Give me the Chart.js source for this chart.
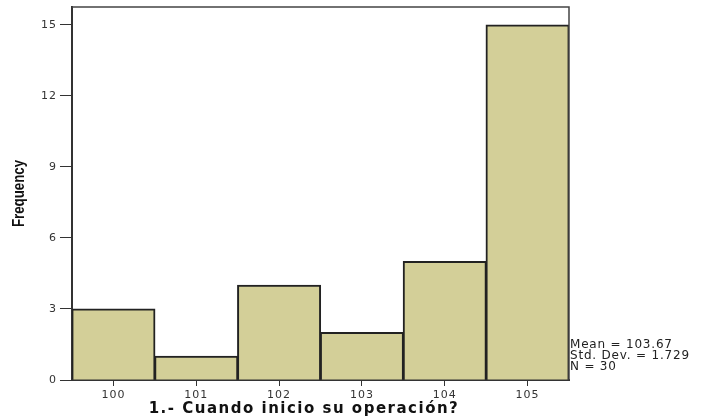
<!DOCTYPE html>
<html>
<head>
<meta charset="utf-8">
<script src="https://cdn.jsdelivr.net/npm/chart.js@4.4.0/dist/chart.umd.min.js"></script>
<style>
  html, body { margin: 0; padding: 0; background: #fff; }
  #wrap { width: 703px; height: 419px; }
</style>
</head>
<body>
<div id="wrap"><canvas id="histChart"></canvas></div>
<script>
// Histogram data
const years = ['100', '101', '102', '103', '104', '105'];
const frequency = [3, 1, 4, 2, 5, 15];
const yTicks = [0, 3, 6, 9, 12, 15];
const statsLines = ['Mean = 103.67', 'Std. Dev. = 1.729', 'N = 30'];
const yTitle = 'Frequency';
const xTitle = '1.- Cuando inicio su operación?';

const FONT = '"DejaVu Sans", Verdana, sans-serif';

// Wide SPSS-like text: a little letter spacing for ticks
const spacingPlugin = {
  id: 'spacing',
  beforeUpdate(chart) { chart.ctx.letterSpacing = '1px'; },
  beforeDraw(chart) { chart.ctx.letterSpacing = '1px'; }
};

// Top/right frame, axis titles and summary text beside the plot
const framePlugin = {
  id: 'frame',
  afterDraw(chart) {
    const { ctx, chartArea } = chart;
    ctx.save();
    ctx.strokeStyle = '#444';
    ctx.lineWidth = 1.5;
    ctx.beginPath();
    ctx.moveTo(chartArea.left, chartArea.top);
    ctx.lineTo(chartArea.right, chartArea.top);
    ctx.lineTo(chartArea.right, chartArea.bottom);
    ctx.stroke();

    ctx.fillStyle = '#222';
    ctx.letterSpacing = '0.8px';
    ctx.font = '12px ' + FONT;
    ctx.textBaseline = 'middle';
    statsLines.forEach((line, i) => {
      ctx.fillText(line, chartArea.right + 1, chartArea.bottom - 35 + i * 11);
    });

    // x axis title, a bit left of the plot centre as in the original
    ctx.letterSpacing = '1.5px';
    ctx.fillStyle = '#111';
    ctx.font = 'bold 15px ' + FONT;
    ctx.textAlign = 'center';
    ctx.fillText(xTitle, 304, 409);

    // y axis title, condensed bold
    ctx.letterSpacing = '0px';
    ctx.translate(20, (chartArea.top + chartArea.bottom) / 2);
    ctx.rotate(-Math.PI / 2);
    ctx.scale(0.83, 1);
    ctx.font = 'bold 16px "Liberation Sans", Arial, sans-serif';
    ctx.fillText(yTitle, 0, 0);
    ctx.restore();
  }
};

new Chart(document.getElementById('histChart'), {
  type: 'bar',
  data: {
    labels: years,
    datasets: [{
      label: 'Frequency',
      data: frequency,
      backgroundColor: '#d3cf98',
      borderColor: '#222',
      borderWidth: 2,
      borderSkipped: 'bottom',
      inflateAmount: 0.6,
      categoryPercentage: 1,
      barPercentage: 1
    }]
  },
  options: {
    responsive: true,
    maintainAspectRatio: false,
    animation: false,
    layout: {
      padding: { top: 7, right: 134, left: 38, bottom: 0 }
    },
    plugins: {
      legend: { display: false },
      tooltip: { enabled: false }
    },
    scales: {
      x: {
        offset: true,
        afterFit(scale) { scale.height = 39; },
        grid: {
          drawOnChartArea: false,
          drawTicks: true,
          tickLength: 6,
          color: '#333',
          offset: false
        },
        border: { color: '#333', width: 2 },
        ticks: {
          color: '#333',
          font: { size: 11, family: FONT },
          padding: 3
        },
        title: { display: false }
      },
      y: {
        min: 0,
        max: 15.76,
        afterBuildTicks(axis) {
          axis.ticks = yTicks.map(v => ({ value: v }));
        },
        afterFit(scale) { scale.paddingTop = 0; scale.paddingBottom = 0; },
        grid: {
          drawOnChartArea: false,
          drawTicks: true,
          tickLength: 12,
          color: '#333'
        },
        border: { color: '#333', width: 2 },
        ticks: {
          color: '#333',
          font: { size: 11, family: FONT },
          padding: 3
        },
        title: { display: false }
      }
    }
  },
  plugins: [spacingPlugin, framePlugin]
});
</script>
</body>
</html>
